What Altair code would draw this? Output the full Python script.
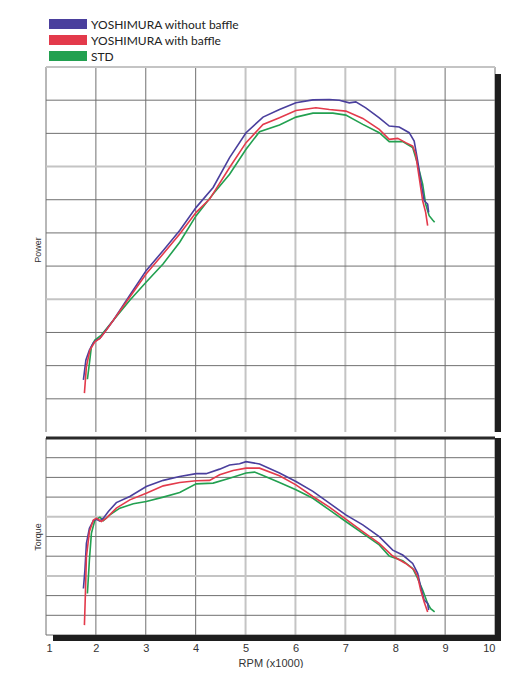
import altair as alt
import pandas as pd

SERIES = ["YOSHIMURA without baffle", "YOSHIMURA with baffle", "STD"]
COLORS = ["#4a3f9d", "#e33a4b", "#22a050"]

# ---- Power (grid units) ----
P_BLUE_RPM = [1.75, 1.80, 1.87, 1.95, 2.01, 2.08, 2.18, 2.35, 2.68, 3.01, 3.35, 3.68, 4.01, 4.35, 4.68, 5.01,
              5.35, 5.68, 6.01, 6.35, 6.68, 6.88, 7.08, 7.21, 7.41, 7.68, 7.88, 8.08, 8.28, 8.38, 8.45, 8.51,
              8.58, 8.65, 8.67]
P_BLUE_VAL = [1.57, 2.17, 2.47, 2.69, 2.77, 2.82, 3.02, 3.37, 4.12, 4.87, 5.47, 6.07, 6.77, 7.37, 8.27, 9.02,
              9.49, 9.72, 9.92, 10.01, 10.02, 10.00, 9.92, 9.95, 9.77, 9.47, 9.22, 9.19, 9.02, 8.77, 8.17, 7.57,
              6.97, 6.87, 6.62]
P_RED_RPM = [1.77, 1.81, 1.88, 1.98, 2.08, 2.21, 2.68, 3.01, 3.35, 3.68, 4.01, 4.28, 4.68, 5.01, 5.35, 5.68,
             6.01, 6.41, 6.68, 7.01, 7.35, 7.68, 7.88, 8.05, 8.21, 8.35, 8.41, 8.48, 8.55, 8.61, 8.65]
P_RED_VAL = [1.17, 1.97, 2.47, 2.72, 2.82, 3.07, 4.07, 4.77, 5.37, 5.97, 6.62, 7.02, 7.97, 8.72, 9.27, 9.47,
             9.69, 9.77, 9.72, 9.67, 9.45, 9.12, 8.82, 8.85, 8.72, 8.62, 8.37, 7.67, 6.97, 6.62, 6.22]
P_GREEN_RPM = [1.83, 1.87, 1.91, 1.98, 2.11, 2.35, 2.68, 3.01, 3.35, 3.68, 4.01, 4.35, 4.68, 5.01, 5.28, 5.68,
               6.01, 6.35, 6.75, 7.01, 7.35, 7.68, 7.88, 8.15, 8.35, 8.45, 8.55, 8.61, 8.68, 8.75, 8.79]
P_GREEN_VAL = [1.59, 2.07, 2.57, 2.77, 2.92, 3.37, 3.97, 4.52, 5.07, 5.72, 6.52, 7.17, 7.77, 8.52, 9.05, 9.25,
               9.49, 9.61, 9.61, 9.55, 9.27, 9.02, 8.75, 8.75, 8.57, 8.07, 7.47, 6.87, 6.52, 6.39, 6.32]

# ---- Torque (grid units) ----
T_BLUE_RPM = [1.75, 1.78, 1.81, 1.87, 1.95, 2.01, 2.08, 2.15, 2.25, 2.41, 2.68, 3.01, 3.35, 3.68, 4.01, 4.21,
              4.48, 4.68, 4.88, 5.01, 5.28, 5.68, 6.01, 6.35, 6.68, 7.01, 7.35, 7.68, 7.95, 8.15, 8.35, 8.45,
              8.51, 8.58, 8.65, 8.67]
T_BLUE_VAL = [2.36, 3.30, 4.65, 5.42, 5.81, 5.88, 5.79, 5.93, 6.27, 6.72, 7.03, 7.54, 7.85, 8.05, 8.19, 8.19,
              8.42, 8.63, 8.69, 8.80, 8.68, 8.22, 7.79, 7.29, 6.69, 6.10, 5.59, 4.99, 4.31, 4.06, 3.63, 3.13,
              2.45, 1.77, 1.60, 1.26]
T_RED_RPM = [1.77, 1.79, 1.81, 1.87, 1.95, 2.01, 2.11, 2.21, 2.41, 2.68, 3.01, 3.35, 3.68, 4.01, 4.28, 4.48,
             4.75, 5.01, 5.28, 5.68, 6.01, 6.35, 6.68, 7.01, 7.35, 7.68, 7.95, 8.21, 8.38, 8.45, 8.51, 8.58, 8.65]
T_RED_VAL = [0.50, 2.11, 3.97, 5.25, 5.84, 5.93, 5.76, 5.93, 6.44, 6.86, 7.20, 7.57, 7.74, 7.83, 7.85, 8.13,
             8.35, 8.47, 8.47, 8.08, 7.62, 7.03, 6.49, 5.88, 5.25, 4.65, 4.01, 3.63, 3.30, 2.96, 2.28, 1.68, 1.17]
T_GREEN_RPM = [1.83, 1.87, 1.91, 1.98, 2.08, 2.15, 2.28, 2.48, 2.75, 3.01, 3.35, 3.68, 4.01, 4.35, 4.68, 5.01,
               5.18, 5.35, 5.68, 6.01, 6.35, 6.68, 7.01, 7.35, 7.68, 7.88, 8.15, 8.35, 8.45, 8.55, 8.65, 8.71, 8.79]
T_GREEN_VAL = [2.11, 3.80, 5.16, 5.84, 5.98, 5.81, 6.10, 6.44, 6.66, 6.78, 7.00, 7.23, 7.67, 7.71, 7.96, 8.22,
               8.27, 8.10, 7.74, 7.37, 6.94, 6.35, 5.76, 5.16, 4.57, 4.01, 3.77, 3.38, 2.87, 2.28, 1.60, 1.34, 1.17]

X_TICKS = [1, 2, 3, 4, 5, 6, 7, 8, 9, 10]
X_GRID_DARK = [1, 2, 3, 4, 9, 10]
X_GRID_LIGHT = [5, 6, 7, 8]
P_GRID_DARK = [1, 2, 3, 5, 6, 7, 9, 10]
P_GRID_LIGHT = [4, 8, 11]
T_GRID_DARK = [0, 1, 2, 4, 5, 7, 8, 9]
T_GRID_LIGHT = [3, 6]


def frame(parts):
    rows = []
    for name, rpm, val in parts:
        for i, (r, v) in enumerate(zip(rpm, val)):
            rows.append({"series": name, "rpm": r, "val": v, "i": i})
    return pd.DataFrame(rows)


power_df = frame([(SERIES[2], P_GREEN_RPM, P_GREEN_VAL), (SERIES[0], P_BLUE_RPM, P_BLUE_VAL),
                  (SERIES[1], P_RED_RPM, P_RED_VAL)])
torque_df = frame([(SERIES[2], T_GREEN_RPM, T_GREEN_VAL), (SERIES[0], T_BLUE_RPM, T_BLUE_VAL),
                   (SERIES[1], T_RED_RPM, T_RED_VAL)])
legend_df = pd.DataFrame({"series": SERIES})
one = pd.DataFrame({"k": [0]})

W = 449
PH = 365
TH = 197
LH = 48
DARK = "#707070"
LIGHT = "#c4c4c4"
FONT = "Liberation Sans"

XS = alt.Scale(domain=[1, 10], nice=False, zero=False)
PS = alt.Scale(domain=[0, 11], nice=False, zero=True)
TS = alt.Scale(domain=[0, 10], nice=False, zero=True)
color = alt.Color("series:N", scale=alt.Scale(domain=SERIES, range=COLORS), legend=None)

x_top_axis = None
x_bot_axis = alt.Axis(values=X_TICKS, ticks=False, domain=False, grid=False, title="RPM (x1000)",
                      labelFont=FONT, labelFontSize=11, labelColor="#333", labelPadding=7,
                      titleFont=FONT, titleFontSize=11, titleFontWeight="normal", titleColor="#333",
                      titlePadding=4)
p_axis = alt.Axis(labels=False, ticks=False, domain=False, grid=False, title="Power",
                  titleFont=FONT, titleFontSize=9, titleFontWeight="normal", titleColor="#333",
                  titlePadding=4)
t_axis = alt.Axis(labels=False, ticks=False, domain=False, grid=False, title="Torque",
                  titleFont=FONT, titleFontSize=9, titleFontWeight="normal", titleColor="#333",
                  titlePadding=4)


def vgrid(values, col, w, axis):
    return alt.Chart(pd.DataFrame({"v": values})).mark_rule(color=col, strokeWidth=w).encode(
        x=alt.X("v:Q", scale=XS, axis=axis))


def hgrid(values, col, w, scale, axis):
    return alt.Chart(pd.DataFrame({"v": values})).mark_rule(color=col, strokeWidth=w).encode(
        y=alt.Y("v:Q", scale=scale, axis=axis))


# ---- legend panel ----
ly = alt.Y("series:N", scale=alt.Scale(type="point", domain=SERIES, padding=0.5), axis=None)
legend_keys = alt.Chart(legend_df).mark_rule(strokeWidth=10).encode(
    x=alt.value(3), x2=alt.value(41), y=ly, color=color)
legend_text = alt.Chart(legend_df).mark_text(align="left", baseline="middle", font="Lato", fontSize=12,
                                             color="#222", dy=0.5).encode(
    x=alt.value(45), y=ly, text="series:N")
legend_panel = alt.layer(legend_keys, legend_text).properties(width=W, height=LH)

SHADOW = "#1e1e1e"
power_lines = alt.Chart(power_df).mark_line(strokeWidth=1.6, clip=True).encode(
    x=alt.X("rpm:Q", scale=XS, axis=x_top_axis), y=alt.Y("val:Q", scale=PS, axis=p_axis),
    color=color, order="i:Q")
power_shadow = alt.Chart(one).mark_rule(color=SHADOW, strokeWidth=6).encode(
    x=alt.value(W + 3), y=alt.value(7), y2=alt.value(PH))
power = alt.layer(
    vgrid(X_GRID_LIGHT, LIGHT, 2, x_top_axis), vgrid(X_GRID_DARK, DARK, 1, x_top_axis),
    hgrid(P_GRID_LIGHT, LIGHT, 2, PS, p_axis), hgrid(P_GRID_DARK, DARK, 1, PS, p_axis),
    power_lines, power_shadow,
).properties(width=W, height=PH)

torque_lines = alt.Chart(torque_df).mark_line(strokeWidth=1.6, clip=True).encode(
    x=alt.X("rpm:Q", scale=XS, axis=x_bot_axis), y=alt.Y("val:Q", scale=TS, axis=t_axis),
    color=color, order="i:Q")
torque_shadow_r = alt.Chart(one).mark_rule(color=SHADOW, strokeWidth=6).encode(
    x=alt.value(W + 3), y=alt.value(0), y2=alt.value(TH + 6))
torque_shadow_b = alt.Chart(one).mark_rule(color=SHADOW, strokeWidth=6).encode(
    x=alt.value(7), x2=alt.value(W + 6), y=alt.value(TH + 3))
divider = alt.Chart(one).mark_rule(color="#2a2a2a", strokeWidth=3).encode(
    x=alt.value(0), x2=alt.value(W), y=alt.value(0))
torque = alt.layer(
    vgrid(X_GRID_LIGHT, LIGHT, 2, x_bot_axis), vgrid(X_GRID_DARK, DARK, 1, x_bot_axis),
    hgrid(T_GRID_LIGHT, LIGHT, 2, TS, t_axis), hgrid(T_GRID_DARK, DARK, 1, TS, t_axis),
    torque_lines, torque_shadow_r, torque_shadow_b, divider,
).properties(width=W, height=TH)

panels = alt.vconcat(power, torque, spacing=0).resolve_scale(y="independent")
chart = alt.vconcat(legend_panel, panels, spacing=2).resolve_scale(y="independent").properties(
    padding={"left": 25, "top": 8, "right": 5, "bottom": 0}, background="white"
).configure_view(stroke=None)

chart.save("out.html", embed_options={"renderer": "svg", "actions": False})
